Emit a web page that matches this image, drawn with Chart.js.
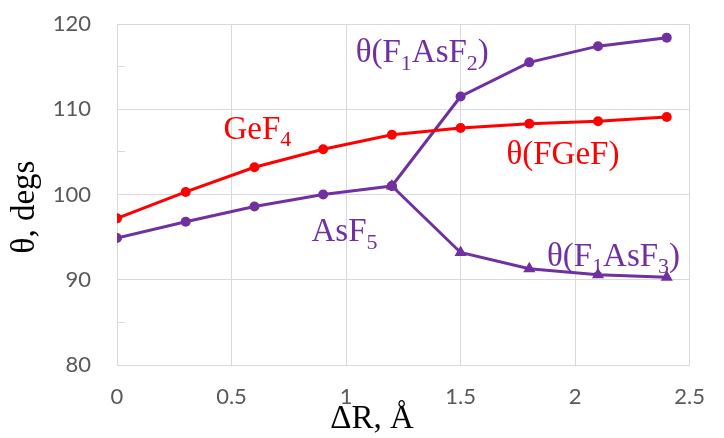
<!DOCTYPE html>
<html>
<head>
<meta charset="utf-8">
<script src="https://cdn.jsdelivr.net/npm/chart.js@4.4.1/dist/chart.umd.min.js"></script>
<style>
  html, body { margin: 0; padding: 0; background: #ffffff; }
  #c { display: block; }
</style>
</head>
<body>
<canvas id="c" width="724" height="438"></canvas>
<script>
// ---- data ----
const dR        = [0, 0.3, 0.6, 0.9, 1.2, 1.5, 1.8, 2.1, 2.4];
const geF4      = [97.2, 100.3, 103.2, 105.3, 107.0, 107.8, 108.3, 108.6, 109.1];
const dRAsF5    = [0, 0.3, 0.6, 0.9, 1.2];
const asF5      = [94.9, 96.8, 98.6, 100.0, 101.0];
const dRSplit   = [1.2, 1.5, 1.8, 2.1, 2.4];
const f1AsF2    = [101.0, 111.5, 115.5, 117.4, 118.4];
const f1AsF3    = [101.0, 93.2, 91.3, 90.6, 90.3];
const xTicks    = [0, 0.5, 1, 1.5, 2, 2.5];
const yTicks    = [80, 90, 100, 110, 120];

const RED = '#ff0000';
const PURPLE = '#7030a0';
const GRID = '#d9d9d9';

function pts(xs, ys) { return xs.map((x, i) => ({ x: x, y: ys[i] })); }

// in-plot labels (text with "_" marking a one-character subscript)
const annotations = [
  { text: 'θ(F_1AsF_2)', x: 1.042, y: 115.5, color: PURPLE },
  { text: 'GeF_4',       x: 0.465, y: 106.5, color: RED },
  { text: 'θ(FGeF)',     x: 1.70,  y: 103.55, color: RED },
  { text: 'AsF_5',       x: 0.849, y: 94.5,  color: PURPLE },
  { text: 'θ(F_1AsF_3)', x: 1.877, y: 91.65, color: PURPLE }
];
const SERIF = '"Liberation Serif", "Times New Roman", serif';

function drawRich(ctx, text, x, y, size) {
  let cx = x;
  let i = 0;
  while (i < text.length) {
    if (text[i] === '_' && i + 1 < text.length) {
      ctx.font = Math.round(size * 0.68) + 'px ' + SERIF;
      ctx.fillText(text[i + 1], cx, y + size * 0.22);
      cx += ctx.measureText(text[i + 1]).width;
      i += 2;
    } else {
      ctx.font = size + 'px ' + SERIF;
      ctx.fillText(text[i], cx, y);
      cx += ctx.measureText(text[i]).width;
      i += 1;
    }
  }
}

const labelPlugin = {
  id: 'labels',
  afterDraw(chart) {
    const ctx = chart.ctx;
    const xs = chart.scales.x, ys = chart.scales.y;
    ctx.save();
    ctx.textBaseline = 'alphabetic';
    ctx.textAlign = 'left';
    annotations.forEach(a => {
      ctx.fillStyle = a.color;
      drawRich(ctx, a.text, xs.getPixelForValue(a.x), ys.getPixelForValue(a.y), 33);
    });
    // axis titles
    ctx.fillStyle = '#000000';
    ctx.font = '33px ' + SERIF;
    ctx.textAlign = 'center';
    ctx.textBaseline = 'middle';
    ctx.fillText('ΔR, Å', 372, 419);
    ctx.translate(25, 207);
    ctx.rotate(-Math.PI / 2);
    ctx.fillText('θ, degs', 0, 0);
    ctx.restore();
  }
};

const tickFont = { family: 'Lato, "Open Sans", sans-serif', size: 22 };

new Chart(document.getElementById('c'), {
  type: 'line',
  data: {
    datasets: [
      { label: 'GeF4', data: pts(dR, geF4), borderColor: RED, backgroundColor: RED,
        pointStyle: 'circle', pointRadius: 5 },
      { label: 'AsF5', data: pts(dRAsF5, asF5), borderColor: PURPLE, backgroundColor: PURPLE,
        pointStyle: 'circle', pointRadius: 5 },
      { label: 'θ(F1AsF2)', data: pts(dRSplit, f1AsF2), borderColor: PURPLE, backgroundColor: PURPLE,
        pointStyle: 'circle', pointRadius: 5 },
      { label: 'θ(F1AsF3)', data: pts(dRSplit, f1AsF3), borderColor: PURPLE, backgroundColor: PURPLE,
        pointStyle: 'triangle', pointRadius: 7 }
    ]
  },
  options: {
    responsive: false,
    animation: false,
    devicePixelRatio: 1,
    layout: { padding: { left: 0, top: 24, right: 17, bottom: 0 } },
    elements: {
      line: { borderWidth: 3, tension: 0 },
      point: { borderWidth: 0, hoverRadius: 5 }
    },
    plugins: { legend: { display: false }, tooltip: { enabled: false } },
    scales: {
      x: {
        type: 'linear', min: 0, max: 2.5,
        afterBuildTicks: s => { s.ticks = xTicks.map(v => ({ value: v })); },
        afterFit: s => { s.height = 73; },
        ticks: { font: tickFont, color: '#595959', padding: 19, callback: v => String(v) },
        grid: { color: GRID, lineWidth: 1, drawTicks: false },
        border: { color: GRID, width: 1 }
      },
      y: {
        type: 'linear', min: 80, max: 120,
        afterBuildTicks: s => {
          const t = [];
          for (let i = 0; i < yTicks.length; i++) {
            t.push({ value: yTicks[i] });
            if (i < yTicks.length - 1) t.push({ value: (yTicks[i] + yTicks[i + 1]) / 2, minor: true });
          }
          s.ticks = t;
        },
        afterFit: s => { s.width = 117; s.paddingTop = 0; s.paddingBottom = 0; },
        ticks: {
          font: tickFont, color: '#595959', padding: 34, autoSkip: false,
          callback: v => (yTicks.includes(v) ? String(v) : '')
        },
        grid: {
          color: c => (c.tick && yTicks.includes(c.tick.value) ? GRID : 'rgba(0,0,0,0)'),
          tickColor: GRID, tickLength: -8, lineWidth: 1
        },
        border: { color: GRID, width: 1 }
      }
    }
  },
  plugins: [labelPlugin]
});
</script>
</body>
</html>
